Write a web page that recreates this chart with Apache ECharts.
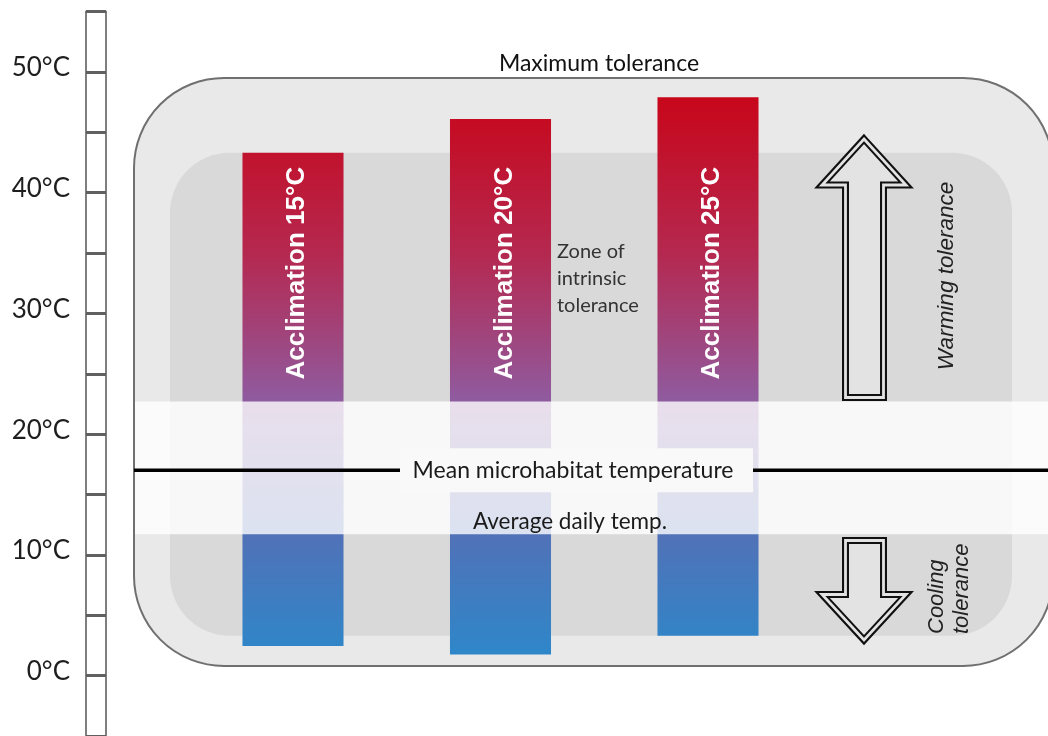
<!DOCTYPE html>
<html><head><meta charset="utf-8">
<script src="https://cdn.jsdelivr.net/npm/echarts@6/dist/echarts.min.js"></script>
<style>html,body{margin:0;padding:0;background:#fff}#c{width:1048px;height:736px}</style>
</head><body><div id="c"></div>
<script>
// ---- data (°C) ----
const categories = ['Acclimation 15°C', 'Acclimation 20°C', 'Acclimation 25°C'];
const upperTolerance = [43.3, 46.1, 47.9];
const lowerTolerance = [2.45, 1.75, 3.3];
const maximumToleranceZone = [0.8, 49.5];
const intrinsicToleranceZone = [3.3, 43.3];
const averageDailyRange = [11.7, 22.7];
const meanMicrohabitat = [17.0];
const tempTickLabels = [0, 10, 20, 30, 40, 50];

const LATO = 'Lato, "Open Sans", sans-serif';
const ARIAL = '"Liberation Sans", Arial, sans-serif';

const chart = echarts.init(document.getElementById('c'), null, {renderer: 'canvas'});

function zoneItem(x0, x1, r, fill, stroke, lw) {
  return function (params, api) {
    const yTop = api.coord([0, api.value(2)])[1];
    const yBot = api.coord([0, api.value(1)])[1];
    return {
      type: 'rect',
      shape: {x: x0, y: yTop, width: x1 - x0, height: yBot - yTop, r: r},
      style: {fill: fill, stroke: stroke, lineWidth: lw}
    };
  };
}

const upArrow = [[864,139],[906,185],[883.5,185],[883.5,397.5],[845.5,397.5],[845.5,185],[822,185]];
const downArrow = [[845.5,540.5],[883.5,540.5],[883.5,594.5],[906,594.5],[864,640],[822,594.5],[845.5,594.5]];
function arrow(points) {
  return [
    {type: 'polygon', z: 90, shape: {points: points}, style: {fill: '#e3e3e3', stroke: '#111', lineWidth: 7, lineJoin: 'miter'}},
    {type: 'polygon', z: 91, shape: {points: points}, style: {fill: 'none', stroke: '#e3e3e3', lineWidth: 2.8, lineJoin: 'miter'}}
  ];
}

const option = {
  animation: false,
  backgroundColor: '#ffffff',
  grid: [
    {left: 86, width: 20, top: 11.5, bottom: -1.5, show: true, backgroundColor: '#fff', borderColor: '#555', borderWidth: 1.5, z: 0},
    {left: 189.25, width: 622.5, top: 11.5, bottom: -1.5}
  ],
  xAxis: [
    {gridIndex: 0, type: 'value', min: 0, max: 1, show: false},
    {gridIndex: 1, type: 'category', data: categories, show: false}
  ],
  yAxis: [
    {gridIndex: 0, type: 'value', min: -5, max: 55, interval: 5,
     axisLine: {show: false}, axisTick: {show: false},
     splitLine: {show: true, lineStyle: {color: '#606060', width: 3}},
     axisLabel: {
       margin: 16, color: '#222',
       formatter: v => tempTickLabels.indexOf(v) >= 0 ? '{t|' + v + '°C}' : '',
       rich: {t: {fontFamily: LATO, fontSize: 26, color: '#1e1e1e', lineHeight: 26, padding: [0, 0, 8, 0]}}
     }},
    {gridIndex: 1, type: 'value', min: -5, max: 55, show: false}
  ],
  series: [
    {type: 'custom', name: 'Maximum tolerance', xAxisIndex: 1, yAxisIndex: 1, z: 1,
     encode: {x: 0, y: [1, 2]},
     data: [[0, maximumToleranceZone[0], maximumToleranceZone[1]]],
     renderItem: zoneItem(134, 1053, 90, '#e9e9e9', '#707070', 2)},
    {type: 'custom', name: 'Zone of intrinsic tolerance', xAxisIndex: 1, yAxisIndex: 1, z: 2,
     encode: {x: 0, y: [1, 2]},
     data: [[0, intrinsicToleranceZone[0], intrinsicToleranceZone[1]]],
     renderItem: zoneItem(170, 1012, 60, '#d9d9d9', null, 0)},
    {type: 'custom', name: 'Acclimation', xAxisIndex: 1, yAxisIndex: 1, z: 3,
     encode: {x: 0, y: [1, 2]},
     data: categories.map((c, i) => [i, lowerTolerance[i], upperTolerance[i]]),
     renderItem: function (params, api) {
       const i = api.value(0);
       const top = api.coord([i, api.value(2)]);
       const bot = api.coord([i, api.value(1)]);
       const w = api.size([1, 0])[0] * 0.487;
       const gTop = api.coord([i, 48])[1];
       const gBot = api.coord([i, 1.7])[1];
       const bandTop = api.coord([i, averageDailyRange[1]])[1];
       const grad = new echarts.graphic.LinearGradient(0, gTop, 0, gBot, [
         {offset: 0, color: '#c8061a'},
         {offset: 0.28, color: '#b5284f'},
         {offset: 0.54, color: '#905a9e'},
         {offset: 0.79, color: '#5072b8'},
         {offset: 1, color: '#2e87c9'}
       ], true);
       return {type: 'group', children: [
         {type: 'rect', shape: {x: top[0] - w / 2, y: top[1], width: w, height: bot[1] - top[1]}, style: {fill: grad}},
         {type: 'text', x: top[0] + 4, y: bandTop - 22, rotation: Math.PI / 2,
          style: {text: categories[i], fill: '#ffffff', fontFamily: ARIAL, fontWeight: 'bold', fontSize: 26,
                  align: 'left', verticalAlign: 'middle'}}
       ]};
     }},
    {type: 'custom', name: 'Average daily temp.', xAxisIndex: 1, yAxisIndex: 1, z: 4,
     encode: {x: 0, y: [1, 2]},
     data: [[0, averageDailyRange[0], averageDailyRange[1]]],
     renderItem: zoneItem(135, 1048, 0, 'rgba(255,255,255,0.8)', null, 0)},
    {type: 'custom', name: 'Mean microhabitat temperature', xAxisIndex: 1, yAxisIndex: 1, z: 5,
     encode: {x: 0, y: 1},
     data: [[0, meanMicrohabitat[0]]],
     renderItem: function (params, api) {
       const y = api.coord([0, api.value(1)])[1];
       return {type: 'group', children: [
         {type: 'line', shape: {x1: 134, y1: y, x2: 1048, y2: y}, style: {stroke: '#000', lineWidth: 3.5}},
         {type: 'rect', shape: {x: 400, y: y - 22, width: 353, height: 44}, style: {fill: '#f9f9f9'}},
         {type: 'text', x: 573, y: y, style: {text: 'Mean microhabitat temperature', fill: '#1a1a1a',
           fontFamily: LATO, fontSize: 23, align: 'center', verticalAlign: 'middle'}}
       ]};
     }}
  ],
  graphic: [
    {type: 'text', z: 100, x: 599, y: 64, style: {text: 'Maximum tolerance', fill: '#111', fontFamily: LATO, fontSize: 23, align: 'center', verticalAlign: 'middle'}},
    {type: 'text', z: 100, x: 557, y: 238, style: {text: 'Zone of\nintrinsic\ntolerance', fill: '#333', fontFamily: LATO, fontSize: 20, lineHeight: 27, align: 'left', verticalAlign: 'top'}},
    {type: 'text', z: 100, x: 570, y: 522, style: {text: 'Average daily temp.', fill: '#1a1a1a', fontFamily: LATO, fontSize: 22.5, align: 'center', verticalAlign: 'middle'}},
    {type: 'text', z: 100, x: 947, y: 276, rotation: Math.PI / 2, style: {text: 'Warming tolerance', fill: '#222', fontFamily: ARIAL, fontStyle: 'italic', fontSize: 22.5, align: 'center', verticalAlign: 'middle'}},
    {type: 'text', z: 100, x: 949, y: 634, rotation: Math.PI / 2, style: {text: 'Cooling\ntolerance', fill: '#222', fontFamily: ARIAL, fontStyle: 'italic', fontSize: 22, lineHeight: 25, align: 'left', verticalAlign: 'middle'}}
  ].concat(arrow(upArrow), arrow(downArrow))
};
chart.setOption(option);
</script>
</body></html>
